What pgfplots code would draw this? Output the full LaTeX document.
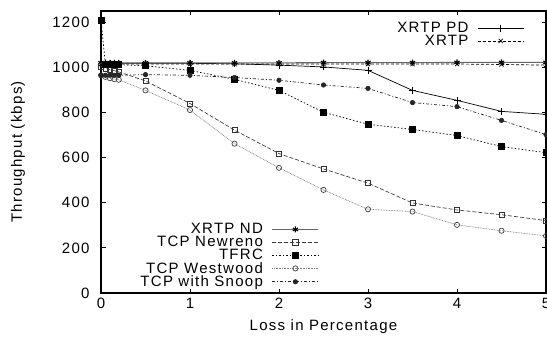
\documentclass[border=0pt]{standalone}
\usepackage{fontspec}
\setmainfont{Liberation Sans}[LetterSpace=8.5]
\usepackage{pgfplots}
\pgfplotsset{compat=1.18}
\newcommand{\ff}{\fontsize{15bp}{17bp}\selectfont}
\pgfplotsset{
  base/.style={
    scale only axis, width=445bp, height=282bp,
    xmin=0, xmax=5, ymin=0, ymax=1250,
    xtick={0,1,2,3,4,5}, ytick={0,200,400,600,800,1000,1200},
    minor tick num=0,
    tick align=inside, major tick length=4.5bp,
    /pgf/number format/assume math mode=true,
    /pgf/number format/1000 sep={},
    tick label style={font=\ff},
    label style={font=\ff},
    axis line style={line width=1.5bp},
    every tick/.style={black, line width=0.8bp},
    xticklabel style={yshift=-2bp},
    yticklabel style={xshift=-8bp},
    legend cell align=right,
    legend plot pos=right,
    legend image code/.code={\draw[mark repeat=2,mark phase=2,##1] plot coordinates {(0bp,0bp) (23bp,0bp) (46bp,0bp)};},
  },
  sPD/.style={black, line width=0.7bp, mark=+, mark size=3.5bp, mark options={solid}},
  sX/.style={black, line width=0.7bp, dash pattern=on 3bp off 2bp, mark=x, mark size=3bp, mark options={solid}},
  sND/.style={black!60, line width=1.1bp, mark=asterisk, mark size=3bp, mark options={solid,black}},
  sNR/.style={black!75, line width=0.7bp, dash pattern=on 4bp off 2bp, mark=square, mark size=2.6bp, mark options={solid,black!80}},
  sTF/.style={black, line width=0.7bp, dash pattern=on 1.5bp off 2bp, mark=square*, mark size=3bp, mark options={solid}},
  sWW/.style={black!50, line width=0.7bp, dash pattern=on 0.8bp off 0.8bp, mark=o, mark size=2.6bp, mark options={solid,black!75}},
  sSN/.style={black!85, line width=0.7bp, dash pattern=on 3bp off 2bp on 1bp off 2bp, mark=*, mark size=2.2bp, mark options={solid}},
}
\begin{document}
\begin{tikzpicture}
\begin{axis}[base, name=main,
  xlabel={Loss in Percentage}, ylabel={Throughput (kbps)},
  xlabel style={at={(axis description cs:0.5,-0.12)}, anchor=center},
  ylabel style={at={(axis description cs:-0.1865,0.5)}, anchor=center},
  legend style={draw=none, fill=none, font=\ff, at={(rel axis cs:0.958,0.975)}, anchor=north east, row sep=-3bp,
    /tikz/every odd column/.append style={column sep=7bp}},
]
\addplot[sPD] coordinates {(0,1018) (0.05,1018) (0.1,1018) (0.15,1018) (0.2,1018) (0.5,1018) (1,1018) (1.5,1016) (2,1010) (2.5,1002) (3,987) (3.5,898) (4,854) (4.5,805) (5,792)};
\addlegendentry{XRTP PD}
\addplot[sX] coordinates {(0,1015) (0.05,1015) (0.1,1015) (0.15,1015) (0.2,1015) (0.5,1015) (1,1015) (1.5,1015) (2,1015) (2.5,1015) (3,1015) (3.5,1015) (4,1015) (4.5,1013) (5,1010)};
\addlegendentry{XRTP}
\end{axis}
\begin{axis}[base, hide axis,
  legend style={draw=none, fill=none, font=\ff, at={(rel axis cs:0.497,0.003)}, anchor=south east, row sep=-3bp,
    /tikz/every odd column/.append style={column sep=7bp}},
]
\addplot[sND] coordinates {(0,1020) (0.05,1020) (0.1,1020) (0.15,1020) (0.2,1020) (0.5,1020) (1,1020) (1.5,1020) (2,1020) (2.5,1021) (3,1021) (3.5,1021) (4,1022) (4.5,1022) (5,1022)};
\addlegendentry{XRTP ND}
\addplot[sNR] coordinates {(0,1005) (0.05,995) (0.1,990) (0.15,985) (0.2,980) (0.5,940) (1,840) (1.5,722) (2,618) (2.5,550) (3,487) (3.5,399) (4,368) (4.5,347) (5,321)};
\addlegendentry{TCP Newreno}
\addplot[sTF] coordinates {(0,1210) (0.05,1012) (0.1,1012) (0.15,1012) (0.2,1012) (0.5,1007) (1,987) (1.5,947) (2,898) (2.5,801) (3,748) (3.5,725) (4,698) (4.5,649) (5,622)};
\addlegendentry{TFRC}
\addplot[sWW] coordinates {(0,965) (0.05,958) (0.1,952) (0.15,948) (0.2,945) (0.5,898) (1,811) (1.5,662) (2,555) (2.5,457) (3,371) (3.5,361) (4,302) (4.5,276) (5,253)};
\addlegendentry{TCP Westwood}
\addplot[sSN] coordinates {(0,965) (0.05,965) (0.1,965) (0.15,965) (0.2,965) (0.5,968) (1,965) (1.5,955) (2,943) (2.5,922) (3,907) (3.5,844) (4,826) (4.5,765) (5,702)};
\addlegendentry{TCP with Snoop}
\end{axis}
\pgfresetboundingbox
\path ([shift={(-101bp,-46bp)}]main.south west) rectangle ([shift={(1bp,11bp)}]main.north east);
\end{tikzpicture}
\end{document}
